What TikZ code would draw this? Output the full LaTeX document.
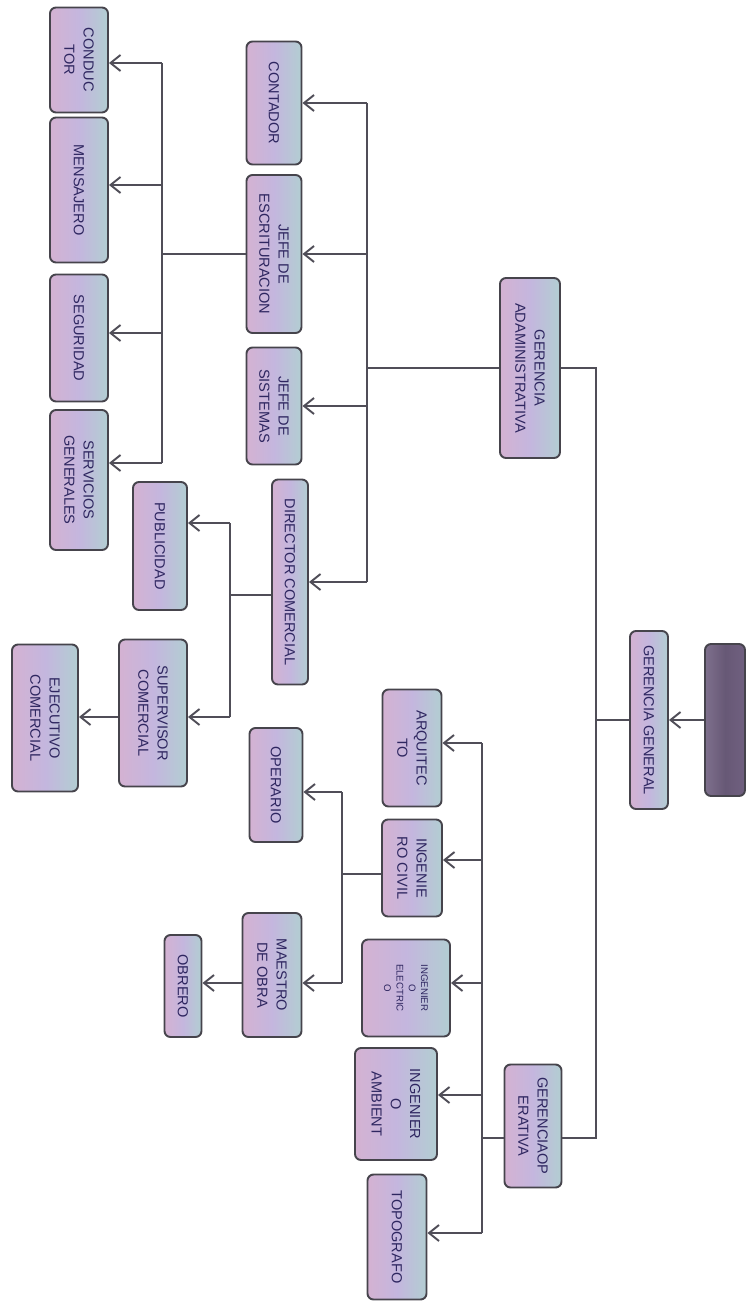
\documentclass[tikz,border=0pt]{standalone}
\usepackage{fontspec}
\setmainfont{Liberation Sans}
\usetikzlibrary{arrows.meta, positioning}
\definecolor{borde}{RGB}{70,68,76}
\definecolor{gris}{RGB}{80,78,88}
\definecolor{texto}{RGB}{46,38,96}
\definecolor{rosa}{RGB}{212,178,210}
\definecolor{celeste}{RGB}{178,206,210}
\definecolor{lila}{RGB}{196,182,222}
\definecolor{raiz}{RGB}{112,96,128}

\begin{document}
\begin{tikzpicture}[x=0.2mm, y=-0.2mm,
  caja/.style={rectangle, rounded corners=1.2mm, draw=borde, line width=1.1pt, rotate=-90,
    align=center, inner sep=1pt, text=texto, font=\fontsize{8.3}{11}\selectfont,
    left color=rosa, right color=celeste, middle color=lila},
  raizc/.style={left color=raiz!90!white, right color=raiz, middle color=raiz!92!black},
  tam/.style 2 args={minimum height=#1*0.2mm, minimum width=#2*0.2mm},
  linea/.style={draw=gris, line width=1.1pt},
  flecha/.style={linea, -{Straight Barb[length=2mm, width=3.2mm]}}]
\useasboundingbox (0,0) rectangle (748,1311);

% Nivel 1: raiz y gerencias
\node[caja, raizc, tam={40}{152}] (raiz) at (725,720) {};
\node[caja, tam={38}{178}] (gg) at (649,720) {GERENCIA GENERAL};
\node[caja, tam={60}{180}] (ga) at (530,368) {GERENCIA\\ADAMINISTRATIVA};
\node[caja, tam={57}{123}] (go) at (533,1126) {GERENCIAOP\\ERATIVA};

\draw[flecha] (raiz.south) -- (gg.north);
\coordinate (sg) at (596,720);
\draw[linea] (gg.south) -- (sg);
\draw[linea] (ga.north) -| (sg) |- (go.north |- 0,1138);

% Gerencia administrativa
\node[caja, tam={55}{123}] (cont) at (274,103) {CONTADOR};
\node[caja, tam={55}{158}] (je) at (274,254) {JEFE DE\\ESCRITURACION};
\node[caja, tam={55}{117}] (js) at (274,406) {JEFE DE\\SISTEMAS};
\node[caja, tam={36}{205}] (dc) at (290,582) {DIRECTOR COMERCIAL};

\coordinate (sa) at (367,368);
\draw[linea] (ga.south) -- (sa);
\draw[linea] (sa |- cont.north) -- (sa |- dc.north);
\foreach \n in {cont,je,js,dc}
  \draw[flecha] (sa |- \n.north) -- (\n.north);

% Servicios (de jefe de escrituracion)
\node[caja, tam={58}{105}] (cond) at (79,60) {CONDUC\\TOR};
\node[caja, tam={58}{145}] (mens) at (79,190) {MENSAJERO};
\node[caja, tam={58}{127}] (seg) at (79,338) {SEGURIDAD};
\node[caja, tam={58}{140}] (serv) at (79,480) {SERVICIOS\\GENERALES};

\coordinate (ss) at (162,254);
\draw[linea] (je.south) -- (ss);
\draw[linea] (ss |- 0,63) -- (ss |- 0,463);
\foreach \n/\y in {cond/63,mens/185,seg/333,serv/463}
  \draw[flecha] (ss |- 0,\y) -- (\n.north |- 0,\y);

% Area comercial
\node[caja, tam={54}{128}] (pub) at (160,546) {PUBLICIDAD};
\node[caja, tam={68}{147}] (sup) at (153,713) {SUPERVISOR\\COMERCIAL};
\node[caja, tam={66}{147}] (eje) at (45,718) {EJECUTIVO\\COMERCIAL};

\coordinate (sc) at (230,595);
\draw[linea] (dc.south |- sc) -- (sc);
\draw[linea] (sc |- 0,523) -- (sc |- 0,717);
\foreach \n/\y in {pub/523,sup/717}
  \draw[flecha] (sc |- 0,\y) -- (\n.north |- 0,\y);
\draw[flecha] (sup.south |- 0,717) -- (eje.north |- 0,717);

% Gerencia operativa
\node[caja, tam={59}{117}] (arq) at (412,748) {ARQUITEC\\TO};
\node[caja, tam={60}{97}] (ic) at (412,868) {INGENIE\\RO CIVIL};
\node[caja, tam={88}{97}, font=\fontsize{5.5}{7}\selectfont] (ie) at (406,988) {INGENIER\\O\\ELECTRIC\\O};
\node[caja, tam={82}{112}] (ia) at (396,1104) {INGENIER\\O\\AMBIENT};
\node[caja, tam={59}{125}] (topo) at (397,1237) {TOPOGRAFO};

\coordinate (so) at (482,1138);
\draw[linea] (go.south |- so) -- (so);
\draw[linea] (so |- 0,743) -- (so |- 0,1233);
\foreach \n/\y in {arq/743,ic/860,ie/983,ia/1095,topo/1233}
  \draw[flecha] (so |- 0,\y) -- (\n.north |- 0,\y);

% Obra (de ingeniero civil)
\node[caja, tam={53}{114}] (ope) at (276,785) {OPERARIO};
\node[caja, tam={59}{124}] (mo) at (272,975) {MAESTRO\\DE OBRA};
\node[caja, tam={37}{102}] (obr) at (183,986) {OBRERO};

\coordinate (si) at (342,874);
\draw[linea] (ic.south |- si) -- (si);
\draw[linea] (si |- 0,792) -- (si |- 0,983);
\foreach \n/\y in {ope/792,mo/983}
  \draw[flecha] (si |- 0,\y) -- (\n.north |- 0,\y);
\draw[flecha] (mo.south |- 0,983) -- (obr.north |- 0,983);
\end{tikzpicture}
\end{document}
